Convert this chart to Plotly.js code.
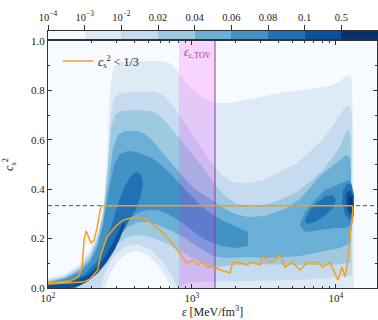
<!DOCTYPE html>
<html><head><meta charset="utf-8">
<script src="https://cdn.plot.ly/plotly-3.0.1.min.js"></script>
<style>html,body{margin:0;padding:0;background:#fff}#chart{width:378px;height:320px}</style>
</head><body><div id="chart"></div>
<script>
// Colour levels (Blues) and colourbar labels
const levelColors = ['#f7fbff','#deebf7','#c6dbef','#9ecae1','#6baed6','#4292c6','#2171b5','#08519c','#08306b'];
const cbLabels = ['10<sup>−4</sup>','10<sup>−3</sup>','10<sup>−2</sup>','0.02','0.04','0.06','0.08','0.1','0.5','1'];

// Density contour regions (epsilon in MeV/fm^3, c_s^2)
const lv1Eps = [100,131,167,196,222,245,257,265,274,287,316,402,600,703,787,894,1049,1231,1445,1836,2528,4084,6595,9085,10660,11730,12500,12920,13130,13340,726,660,580,495,415,348,301,270,249,100];
const lv1Cs2 = [0.040,0.057,0.097,0.154,0.227,0.336,0.518,0.721,0.842,0.895,0.915,0.919,0.919,0.911,0.883,0.834,0.794,0.765,0.749,0.749,0.765,0.789,0.806,0.818,0.838,0.858,0.862,0.834,0.640,0,0,0.045,0.093,0.134,0.150,0.138,0.105,0.057,0,0];

const lv2Eps = [100,131,167,196,222,245,261,274,287,316,402,553,629,703,799,968,1136,1399,1616,1896,2448,3112,4084,5360,6813,8123,9685,10830,11730,12500,12920,12920,9085,5623,2528,1399,1049,894,799,726,629,511,415,337,283,249,230,100];
const lv2Cs2 = [0.032,0.049,0.089,0.142,0.211,0.316,0.498,0.700,0.765,0.789,0.794,0.794,0.781,0.753,0.709,0.636,0.575,0.498,0.457,0.429,0.425,0.437,0.470,0.506,0.559,0.603,0.664,0.709,0.737,0.737,0.700,0.049,0.040,0.032,0.028,0.028,0.024,0.016,0,0.049,0.105,0.158,0.178,0.166,0.126,0.065,0,0];

const lv3Eps = [100,131,167,196,219,241,257,274,292,321,402,511,580,660,762,894,1049,1231,1399,1695,1989,2448,3112,4084,5360,6813,8123,9533,10830,11730,12310,12710,12710,9085,5623,3481,2448,1695,1399,1136,894,703,580,511,415,343,292,257,230,196,167,142,100];
const lv3Cs2 = [0.028,0.045,0.081,0.130,0.194,0.296,0.457,0.652,0.700,0.717,0.721,0.717,0.704,0.672,0.628,0.579,0.530,0.478,0.429,0.372,0.344,0.328,0.336,0.356,0.389,0.437,0.478,0.530,0.579,0.632,0.640,0.599,0.101,0.093,0.093,0.097,0.097,0.089,0.085,0.105,0.138,0.174,0.194,0.206,0.215,0.202,0.170,0.121,0.081,0.036,0.012,0,0];

const lv4Eps = [100,131,167,196,219,241,261,283,306,343,422,479,527,580,649,762,894,1049,1231,1399,1695,1989,2448,3214,4424,5623,6595,7742,9085,10660,11730,12500,12710,12710,10660,7742,5623,3481,2448,1695,1399,1136,894,703,580,495,422,359,306,270,237,202,172,147,100];
const lv4Cs2 = [0.024,0.040,0.073,0.117,0.178,0.275,0.417,0.567,0.619,0.636,0.636,0.619,0.599,0.571,0.534,0.490,0.441,0.401,0.372,0.352,0.320,0.300,0.287,0.291,0.320,0.360,0.405,0.453,0.486,0.518,0.538,0.526,0.478,0.182,0.162,0.146,0.130,0.121,0.126,0.121,0.130,0.162,0.202,0.235,0.255,0.267,0.267,0.247,0.206,0.154,0.101,0.053,0.020,0,0];

const lv5aEps = [100,131,167,196,219,241,261,287,316,359,408,472,527,600,703,825,968,1136,1334,1565,1836,2154,2448,2448,1989,1616,1334,1101,938,799,681,580,495,435,371,316,278,245,212,181,154,100];
const lv5aCs2 = [0.020,0.036,0.065,0.105,0.162,0.251,0.377,0.498,0.543,0.555,0.551,0.538,0.526,0.502,0.466,0.421,0.377,0.336,0.304,0.279,0.259,0.243,0.227,0.170,0.162,0.170,0.186,0.215,0.247,0.275,0.300,0.316,0.316,0.308,0.283,0.239,0.182,0.121,0.069,0.028,0,0];
const lv5bEps = [5623,6090,7149,8387,9842,11190,12310,12920,13340,13340,12920,11550,9842,7742,6090];
const lv5bCs2 = [0.255,0.308,0.356,0.397,0.413,0.425,0.437,0.417,0.356,0.296,0.255,0.243,0.243,0.235,0.227];

const lv6aEps = [100,121,142,181,219,249,278,306,337,371,408,442,457,442,408,359,316,278,245,212,181,154,100];
const lv6aCs2 = [0.016,0.020,0.028,0.057,0.109,0.178,0.259,0.340,0.405,0.449,0.470,0.462,0.425,0.372,0.320,0.263,0.211,0.154,0.101,0.053,0.020,0,0];
const lv6bEps = [6090,6595,7499,8523,9533,10000,9533,8387,7149,6289];
const lv6bCs2 = [0.275,0.316,0.348,0.372,0.377,0.356,0.324,0.291,0.267,0.259];
const lv6cEps = [11190,11920,12710,13340,13340,12500,11550,11010];
const lv6cCs2 = [0.397,0.421,0.421,0.377,0.296,0.275,0.296,0.348];

const lv7aEps = [100,121,154,190,222,253,283,311,332,343,321,292,257,222,190,162,142,100];
const lv7aCs2 = [0.012,0.016,0.028,0.053,0.089,0.134,0.182,0.235,0.267,0.259,0.211,0.158,0.105,0.061,0.028,0.008,0,0];
const lv7bEps = [11730,12500,13130,13130,12310,11730];
const lv7bCs2 = [0.381,0.397,0.372,0.308,0.300,0.336];

const lv8Eps = [12310,12920,13130,12500];
const lv8Cs2 = [0.364,0.368,0.328,0.320];

// c_s^2 < 1/3 contour (upper branch left->right, then lower branch right->left)
const upperEps = [100,121,142,162,172,178,184,190,199,209,219,230,237,12920];
const upperCs2 = [0.020,0.024,0.028,0.045,0.081,0.194,0.231,0.211,0.182,0.194,0.243,0.316,0.333,0.333];
const lowerEps = [13130,12920,12310,11920,11550,11010,10330,9842,9085,8123,7382,6289,5623,4949,4424,4084,3771,3481,3112,2966,2610,2410,2154,1926,1836,1565,1445,1272,1173,1101,1016,923,866,825,738,681,600,536,487,435,402,332,292,257,230,222,196,175,142,121,100];
const lowerCs2 = [0.320,0.275,0.142,0.085,0.045,0.085,0.032,0.061,0.105,0.085,0.105,0.101,0.073,0.105,0.085,0.134,0.113,0.105,0.126,0.093,0.105,0.093,0.101,0.105,0.061,0.073,0.085,0.085,0.105,0.093,0.113,0.101,0.121,0.142,0.174,0.202,0.235,0.255,0.279,0.283,0.287,0.275,0.247,0.206,0.126,0.073,0.036,0.024,0.020,0.018,0.016];

// Reference quantities
const bandEps = [813, 1445];      // shaded band
const epsTOV = 1445;              // epsilon_c,TOV
const conformal = 1/3;            // c_s^2 = 1/3
const xLogRange = [2, 4.285];

const traces = [];
function poly(eps, cs2, color){
  traces.push({type:'scatter', mode:'lines', x:eps, y:cs2, fill:'toself', fillcolor:color,
    line:{width:0, color:color}, hoverinfo:'skip', showlegend:false, xaxis:'x', yaxis:'y'});
}
poly(lv1Eps, lv1Cs2, levelColors[1]);
poly(lv2Eps, lv2Cs2, levelColors[2]);
poly(lv3Eps, lv3Cs2, levelColors[3]);
poly(lv4Eps, lv4Cs2, levelColors[4]);
poly(lv5aEps, lv5aCs2, levelColors[5]);
poly(lv5bEps, lv5bCs2, levelColors[5]);
poly(lv6aEps, lv6aCs2, levelColors[6]);
poly(lv6bEps, lv6bCs2, levelColors[6]);
poly(lv6cEps, lv6cCs2, levelColors[6]);
poly(lv7aEps, lv7aCs2, levelColors[7]);
poly(lv7bEps, lv7bCs2, levelColors[7]);
poly(lv8Eps, lv8Cs2, levelColors[8]);

// band
traces.push({type:'scatter', mode:'lines', x:[bandEps[0],bandEps[1],bandEps[1],bandEps[0]], y:[0,0,1,1],
  fill:'toself', fillcolor:'rgba(255,0,255,0.15)', line:{width:0}, hoverinfo:'skip', showlegend:false});
// TOV line
traces.push({type:'scatter', mode:'lines', x:[epsTOV,epsTOV], y:[0,1], line:{color:'#8a3d9a', width:1},
  hoverinfo:'skip', showlegend:false});
// conformal dashed line
traces.push({type:'scatter', mode:'lines', x:[Math.pow(10,xLogRange[0]), Math.pow(10,xLogRange[1])], y:[conformal,conformal],
  line:{color:'#555', width:1, dash:'4px,3px'}, hoverinfo:'skip', showlegend:false});
// orange contour
traces.push({type:'scatter', mode:'lines', x:upperEps.concat(lowerEps), y:upperCs2.concat(lowerCs2),
  line:{color:'#f4a020', width:1.5}, name:'<i>c</i><sub>s</sub><sup>2</sup> < 1/3', hoverinfo:'skip', showlegend:true});

// colourbar as bars
const cbX = levelColors.map((c,i)=>i+0.5);
traces.push({type:'bar', x:cbX, y:levelColors.map(()=>1), width:levelColors.map(()=>1),
  marker:{color:levelColors, line:{width:0}}, xaxis:'x2', yaxis:'y2', hoverinfo:'skip', showlegend:false});

const minorX = [];
[100,1000,10000].forEach(d=>{for(let k=2;k<=9;k++){minorX.push(k*d);}});

const font = {family:'Liberation Serif, DejaVu Serif, serif', size:11, color:'#222'};
const layout = {
  width:378, height:320,
  margin:{l:48, r:0, t:31, b:32, pad:0},
  paper_bgcolor:'#ffffff', plot_bgcolor:levelColors[0],
  font:font,
  showlegend:true,
  xaxis:{type:'log', range:xLogRange, domain:[0, 329/330], anchor:'y',
    showline:true, linecolor:'#333', linewidth:1, mirror:'ticks',
    ticks:'inside', ticklen:4, tickcolor:'#333', tickvals:[100,1000,10000],
    ticktext:['10<sup>2</sup>','10<sup>3</sup>','10<sup>4</sup>'],
    minor:{tickvals:minorX, ticks:'inside', ticklen:2, tickcolor:'#333', showgrid:false},
    showgrid:false, zeroline:false,
    title:{text:'<i>ε</i> [MeV/fm<sup>3</sup>]', font:{size:12}, standoff:3}},
  yaxis:{range:[0,1], domain:[0, 247/257], anchor:'x',
    showline:true, linecolor:'#333', linewidth:1, mirror:'ticks',
    ticks:'inside', ticklen:4, tickcolor:'#333', dtick:0.2, tick0:0, tickformat:'.1f',
    minor:{dtick:0.1, ticks:'inside', ticklen:2, tickcolor:'#333', showgrid:false},
    showgrid:false, zeroline:false,
    title:{text:'<i>c</i><sub>s</sub><sup>2</sup>', font:{size:12}, standoff:14}},
  xaxis2:{domain:[0,1], range:[0,9], anchor:'y2', side:'top',
    tickvals:[0,1,2,3,4,5,6,7,8,9], ticktext:cbLabels, ticks:'outside', ticklen:5, tickcolor:'#333',
    tickfont:{size:10.5},
    showline:true, linecolor:'#333', mirror:true, showgrid:false, zeroline:false, fixedrange:true},
  yaxis2:{domain:[0.967,1], range:[0,1], anchor:'x2', showticklabels:false, ticks:'',
    showline:true, linecolor:'#333', mirror:true, showgrid:false, zeroline:false},
  legend:{x:0.03, y:0.94, xanchor:'left', yanchor:'top', bgcolor:'rgba(0,0,0,0)', font:{size:12}},
  annotations:[{xref:'x', yref:'y', x:Math.log10(Math.sqrt(bandEps[0]*bandEps[1])), y:0.95,
    text:'<i>ε</i><sub>c,TOV</sub>', showarrow:false, font:{color:'#a0309f', size:11.5}}],
  bargap:0
};
Plotly.newPlot('chart', traces, layout, {staticPlot:true, displayModeBar:false});
</script></body></html>
